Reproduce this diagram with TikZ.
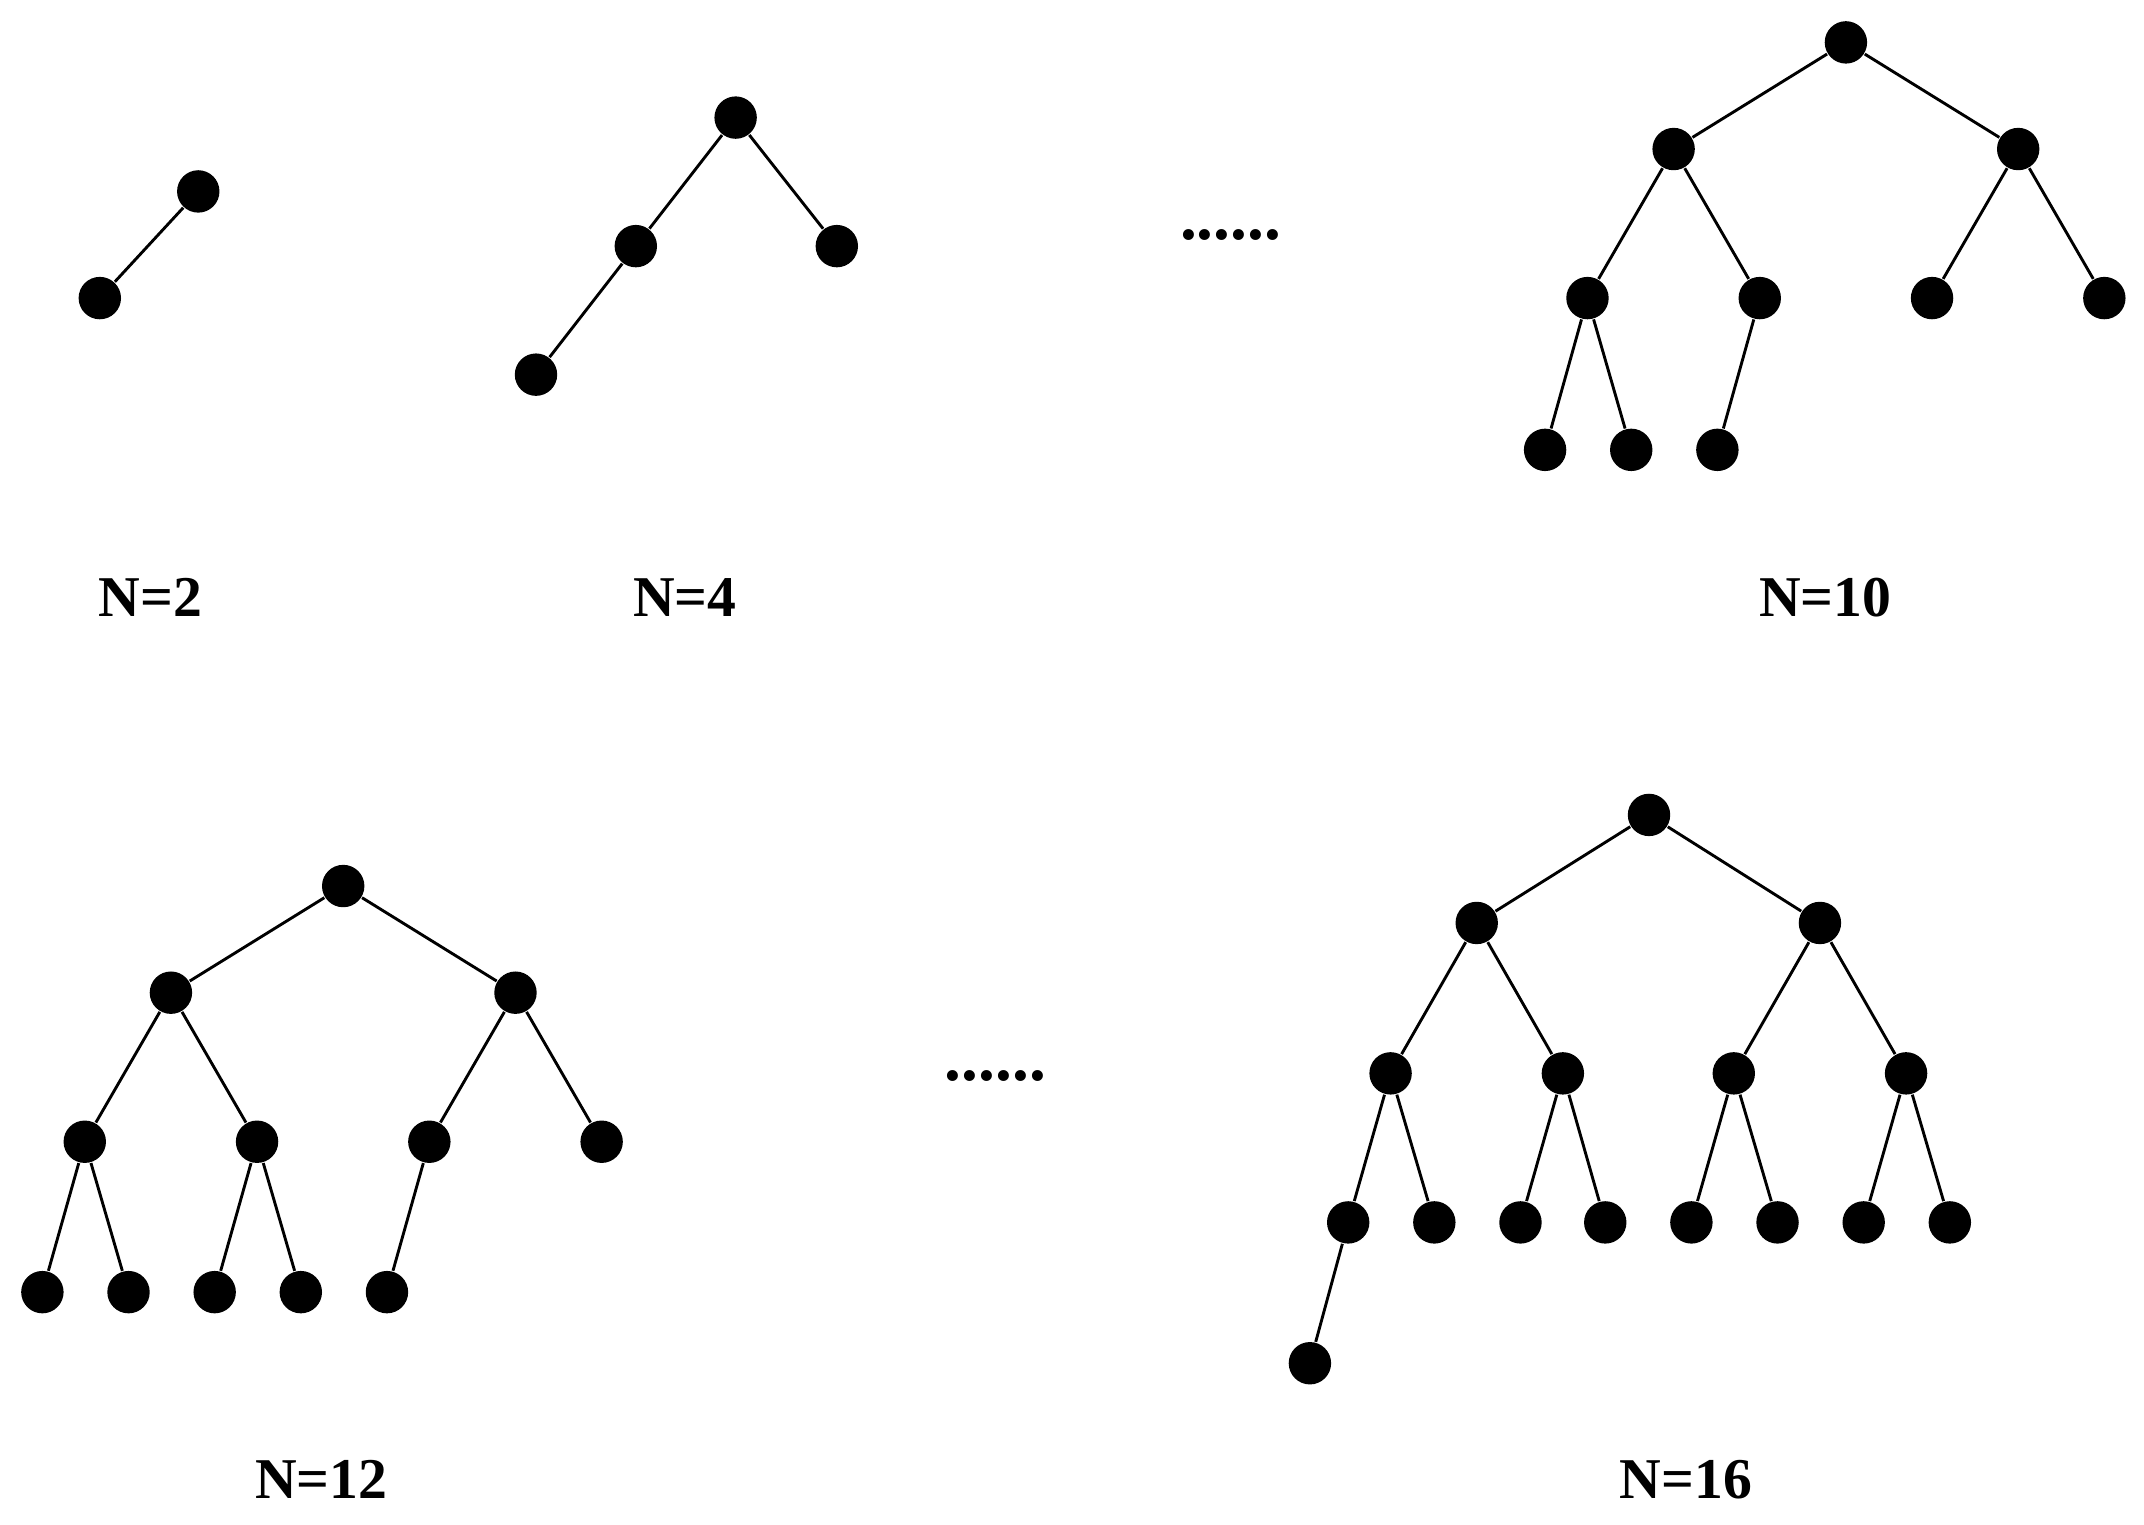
\documentclass[tikz,border=0pt]{standalone}
\usepackage{fontspec}
\setmainfont{Liberation Serif}
\begin{document}
\begin{tikzpicture}[x=0.01cm,y=-0.01cm,
  v/.style={circle,fill=black,inner sep=0pt,minimum size=0.31cm},
  e/.style={line width=0.6pt},
  lab/.style={font=\bfseries\fontsize{12}{14}\selectfont},
  dots/.style={font=\bfseries\fontsize{14}{14}\selectfont}]
\useasboundingbox (0,0) rectangle (1568,1115);
% N=2
\node[v] (a1) at (145,140) {};
\node[v] (a2) at (73,218) {};
\draw[e] (a1)--(a2);
\node[lab] (la) at (110,437) {N=2};
% N=4
\node[v] (b1) at (538,86) {};
\node[v] (b2) at (465,180) {};
\node[v] (b3) at (612,180) {};
\node[v] (b4) at (392,274) {};
\draw[e] (b1)--(b2) (b1)--(b3) (b2)--(b4);
\node[lab] (lb) at (501,437) {N=4};
\node[dots] (d1) at (900,172) {......};
% N=10
\node[v] (c1) at (1350,31) {};
\node[v] (c2) at (1224,109) {};
\node[v] (c3) at (1476,109) {};
\node[v] (c4) at (1161,218) {};
\node[v] (c5) at (1287,218) {};
\node[v] (c6) at (1413,218) {};
\node[v] (c7) at (1539,218) {};
\node[v] (c8) at (1130,329) {};
\node[v] (c9) at (1193,329) {};
\node[v] (c10) at (1256,329) {};
\draw[e] (c1)--(c2) (c1)--(c3) (c2)--(c4) (c2)--(c5) (c3)--(c6) (c3)--(c7)
  (c4)--(c8) (c4)--(c9) (c5)--(c10);
\node[lab] (lc) at (1335,437) {N=10};
% N=12
\node[v] (f1) at (251,648) {};
\node[v] (f2) at (125,726) {};
\node[v] (f3) at (377,726) {};
\node[v] (f4) at (62,835) {};
\node[v] (f5) at (188,835) {};
\node[v] (f6) at (314,835) {};
\node[v] (f7) at (440,835) {};
\node[v] (f8) at (31,945) {};
\node[v] (f9) at (94,945) {};
\node[v] (f10) at (157,945) {};
\node[v] (f11) at (220,945) {};
\node[v] (f12) at (283,945) {};
\draw[e] (f1)--(f2) (f1)--(f3) (f2)--(f4) (f2)--(f5) (f3)--(f6) (f3)--(f7)
  (f4)--(f8) (f4)--(f9) (f5)--(f10) (f5)--(f11) (f6)--(f12);
\node[lab] (lf) at (235,1082) {N=12};
\node[dots] (d2) at (728,787) {......};
% N=16
\node[v] (g1) at (1206,596) {};
\node[v] (g2) at (1080,675) {};
\node[v] (g3) at (1331,675) {};
\node[v] (g4) at (1017,785) {};
\node[v] (g5) at (1143,785) {};
\node[v] (g6) at (1268,785) {};
\node[v] (g7) at (1394,785) {};
\node[v] (g8) at (986,894) {};
\node[v] (g9) at (1049,894) {};
\node[v] (g10) at (1112,894) {};
\node[v] (g11) at (1174,894) {};
\node[v] (g12) at (1237,894) {};
\node[v] (g13) at (1300,894) {};
\node[v] (g14) at (1363,894) {};
\node[v] (g15) at (1426,894) {};
\node[v] (g16) at (958,997) {};
\draw[e] (g1)--(g2) (g1)--(g3) (g2)--(g4) (g2)--(g5) (g3)--(g6) (g3)--(g7)
  (g4)--(g8) (g4)--(g9) (g5)--(g10) (g5)--(g11) (g6)--(g12) (g6)--(g13)
  (g7)--(g14) (g7)--(g15) (g8)--(g16);
\node[lab] (lg) at (1233,1082) {N=16};
\end{tikzpicture}
\end{document}
